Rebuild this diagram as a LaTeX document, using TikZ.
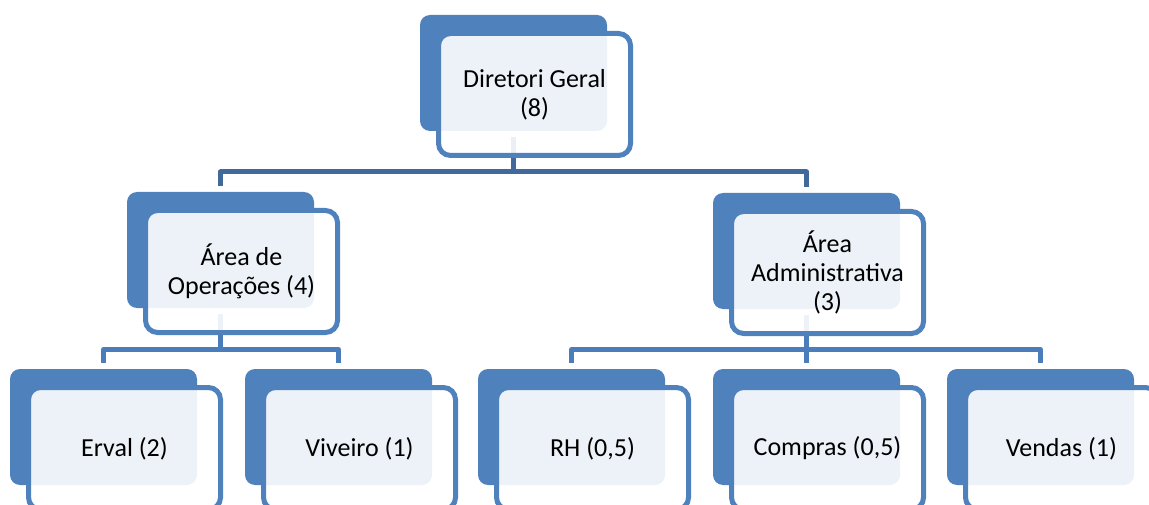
\documentclass[tikz,border=0pt]{standalone}
\usepackage{fontspec}
\setmainfont{Carlito}
\definecolor{accent}{HTML}{4F81BD}
\definecolor{busA}{HTML}{41699C}
\definecolor{busB}{HTML}{4A7DB9}
\begin{document}
\begin{tikzpicture}[x=1pt,y=-1pt,
 backbox/.style={draw=none, fill=accent, rounded corners=10pt, minimum width=187pt, minimum height=116pt, inner sep=0pt},
 frontbox/.style={draw=accent, line width=5pt, fill=white, fill opacity=0.9, text opacity=1, rounded corners=12pt, minimum width=192pt, minimum height=122pt, inner sep=0pt, align=center, font=\fontsize{26}{29}\selectfont},
 busone/.style={draw=busA, line width=5pt, line join=round},
 bustwo/.style={draw=busB, line width=5pt, line join=round}]
\useasboundingbox (0,0) rectangle (1149,505);
\clip (0,0) rectangle (1149,505);
% back boxes
\node[backbox] (dgb) at (513.5,73) {};
\node[backbox] (opb) at (220.5,250) {};
\node[backbox] (adb) at (806.5,251) {};
\node[backbox] (erb) at (103.5,427) {};
\node[backbox] (vib) at (338.5,427) {};
\node[backbox] (rhb) at (571.5,427) {};
\node[backbox] (cob) at (806.5,427) {};
\node[backbox] (veb) at (1040.5,427) {};
% bus coordinates
\coordinate (busa) at (0,172);
\coordinate (busb) at (0,349.5);
% connectors
\draw[busone] ([yshift=-6pt]dgb.south) -- (dgb.south |- busa);
\draw[busone] ([yshift=6pt]opb.north) -- (opb.north |- busa) -- (adb.north |- busa) -- ([yshift=6pt]adb.north);
\draw[bustwo] ([yshift=-6pt]opb.south) -- (opb.south |- busb);
\draw[bustwo] ([yshift=6pt]erb.north) -- (erb.north |- busb) -- (vib.north |- busb) -- ([yshift=6pt]vib.north);
\draw[bustwo] ([yshift=-6pt]adb.south) -- (adb.south |- busb);
\draw[bustwo] ([yshift=6pt]rhb.north) -- (rhb.north |- busb) -- (veb.north |- busb) -- ([yshift=6pt]veb.north);
\draw[bustwo] ([yshift=6pt]cob.north) -- (cob.north |- busb);
% front boxes
\node[frontbox] (dg) at (534.5,94.5) {Diretori Geral\\(8)};
\node[frontbox] (op) at (241.5,271.5) {Área de\\Operações (4)};
\node[frontbox] (ad) at (827.5,272.5) {Área\\Administrativa\\(3)};
\node[frontbox] (er) at (124.5,448.5) {Erval (2)};
\node[frontbox] (vi) at (359.5,448.5) {Viveiro (1)};
\node[frontbox] (rh) at (592.5,448.5) {RH (0,5)};
\node[frontbox] (co) at (827.5,448.5) {Compras (0,5)};
\node[frontbox] (ve) at (1061.5,448.5) {Vendas (1)};
\end{tikzpicture}
\end{document}
